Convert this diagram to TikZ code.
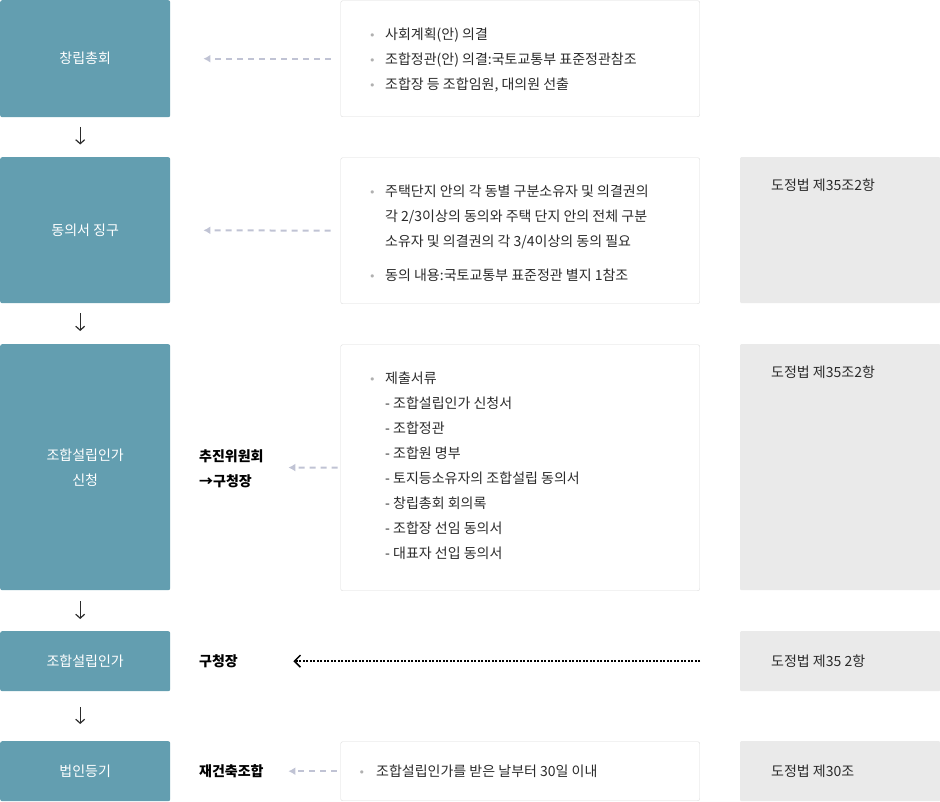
\documentclass[tikz,border=0pt]{standalone}
\usepackage{fontspec}
\setmainfont{Noto Sans CJK KR}
\newfontfamily\dotfont{DejaVu Sans}
\usetikzlibrary{arrows.meta}
\definecolor{stagecol}{HTML}{639EB0}
\definecolor{lawcol}{HTML}{EAEAEA}
\definecolor{notedraw}{HTML}{DADADA}
\definecolor{dashcol}{HTML}{C0C3D4}
\definecolor{bulletcol}{HTML}{B0B0B0}
\definecolor{txtcol}{HTML}{2B2B2B}
\newcommand{\bul}{\makebox[16pt][l]{\textcolor{bulletcol}{\dotfont\fontsize{11}{11}\selectfont •}}}
\newcommand{\sub}{\hspace*{16pt}}
\tikzset{
  stagebox/.style={anchor=north west, fill=stagecol, rounded corners=2pt, text=white,
    minimum width=170pt, inner sep=0pt, align=center, font=\fontsize{14}{25}\selectfont},
  notebox/.style={anchor=north west, draw=notedraw, fill=white, rounded corners=2pt,
    minimum width=359pt, inner sep=0pt},
  lawbox/.style={anchor=north west, fill=lawcol, rounded corners=1pt, minimum width=200pt, inner sep=0pt},
  notetext/.style={anchor=north west, align=left, inner sep=0pt, text=txtcol, font=\fontsize{14}{25}\selectfont},
  lawtext/.style={anchor=west, inner sep=0pt, text=txtcol, font=\fontsize{14}{25}\selectfont},
  sidetext/.style={anchor=west, align=left, inner sep=0pt, font=\bfseries\fontsize{14}{25}\selectfont},
  downarrow/.style={draw=txtcol, line width=1.2pt, -{Straight Barb[length=4pt,width=9pt]}},
  flowdash/.style={draw=dashcol, line width=2pt, dash pattern=on 6pt off 5pt, -{Latex[length=7pt,width=8pt]}},
  lawdot/.style={draw=black, line width=1.5pt, dash pattern=on 2pt off 1.5pt, -{Straight Barb[length=6pt,width=12pt]}}
}

\begin{document}
\begin{tikzpicture}[x=1pt, y=-1pt]
\useasboundingbox (0,0) rectangle (940,801);
\node[stagebox, minimum height=117pt] (stage1) at (0,0) {창립총회};
\node[stagebox, minimum height=146pt] (stage2) at (0,157) {동의서 징구};
\node[stagebox, minimum height=246pt] (stage3) at (0,344) {조합설립인가\\신청};
\node[stagebox, minimum height=60pt] (stage4) at (0,631) {조합설립인가};
\node[stagebox, minimum height=60pt] (stage5) at (0,741) {법인등기};

\node[notebox, minimum height=116pt] (note1) at (340.5,0.5) {};
\node[notebox, minimum height=146pt] (note2) at (340.5,157.5) {};
\node[notebox, minimum height=246pt] (note3) at (340.5,344.5) {};
\node[notebox, minimum height=59pt] (note5) at (340.5,741.5) {};

\node[lawbox, minimum height=146pt] (law2) at (740,157) {};
\node[lawbox, minimum height=246pt] (law3) at (740,344) {};
\node[lawbox, minimum height=60pt] (law4) at (740,631) {};
\node[lawbox, minimum height=60pt] (law5) at (740,741) {};

\node[notetext] (list1) at (369,21.7) {\strut\bul 사회계획(안) 의결\\
  \bul 조합정관(안) 의결:국토교통부 표준정관참조\\
  \bul 조합장 등 조합임원, 대의원 선출};
\node[notetext] (list2) at (369,179.1) {\strut\bul 주택단지 안의 각 동별 구분소유자 및 의결권의\\
  \sub 각 2/3이상의 동의와 주택 단지 안의 전체 구분\\
  \sub 소유자 및 의결권의 각 3/4이상의 동의 필요\\[9pt]
  \bul 동의 내용:국토교통부 표준정관 별지 1참조};
\node[notetext] (list3) at (369,365.7) {\strut\bul 제출서류\\
  \sub - 조합설립인가 신청서\\
  \sub - 조합정관\\
  \sub - 조합원 명부\\
  \sub - 토지등소유자의 조합설립 동의서\\
  \sub - 창립총회 회의록\\
  \sub - 조합장 선임 동의서\\
  \sub - 대표자 선입 동의서};
\node[notetext] (list5) at (358.5,758.4) {\strut\makebox[17.5pt][l]{\textcolor{bulletcol}{\dotfont\fontsize{11}{11}\selectfont •}}조합설립인가를 받은 날부터 30일 이내};

\node[lawtext] (ref2) at (771,185) {도정법 제35조2항};
\node[lawtext] (ref3) at (771,372) {도정법 제35조2항};
\node[lawtext] (ref4) at (771,661) {도정법 제35 2항};
\node[lawtext] (ref5) at (771,771) {도정법 제30조};

\node[sidetext] (side3) at (199,469) {추진위원회\\→구청장};
\node[sidetext] (side4) at (199,661) {구청장};
\node[sidetext] (side5) at (199,771) {재건축조합};

\draw[downarrow, shorten <=9.5pt, shorten >=12.5pt] ([xshift=-5pt]stage1.south) -- ([xshift=-5pt]stage2.north);
\draw[downarrow, shorten <=10pt, shorten >=13pt] ([xshift=-5pt]stage2.south) -- ([xshift=-5pt]stage3.north);
\draw[downarrow, shorten <=11pt, shorten >=12pt] ([xshift=-5pt]stage3.south) -- ([xshift=-5pt]stage4.north);
\draw[downarrow, shorten <=16pt, shorten >=17pt] ([xshift=-5pt]stage4.south) -- ([xshift=-5pt]stage5.north);

\draw[flowdash, shorten <=10pt, shorten >=33pt] (note1.west) -- (stage1.east);
\draw[flowdash, shorten <=10pt, shorten >=33pt] (note2.west) -- (stage2.east);
\draw[flowdash, shorten <=3pt, shorten >=118pt] (note3.west) -- (stage3.east);
\draw[lawdot, shorten <=40pt, shorten >=123pt] (law4.west) -- (stage4.east);
\draw[flowdash, shorten <=4pt, shorten >=118pt] (note5.west) -- (stage5.east);
\end{tikzpicture}
\end{document}
